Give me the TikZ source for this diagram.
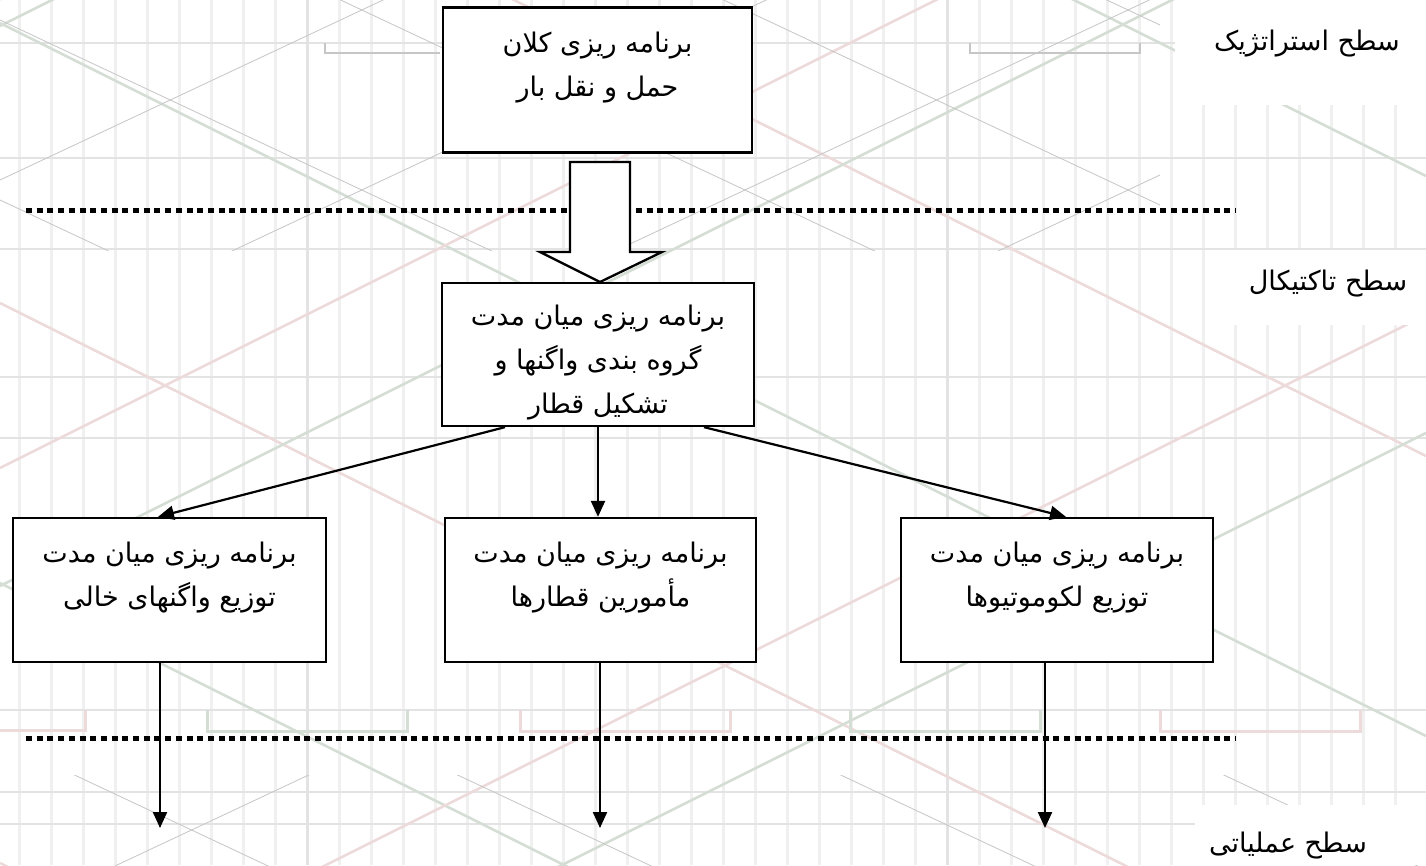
\documentclass[tikz,border=0pt]{standalone}
\usepackage{fontspec}
\newfontfamily\fa[Script=Arabic]{DejaVu Sans}
\TeXXeTstate=1
\usetikzlibrary{arrows.meta}
\definecolor{vline}{HTML}{F0F0F0}
\definecolor{hline}{HTML}{E3E3E3}
\definecolor{pinkl}{HTML}{EDDADA}
\definecolor{greenl}{HTML}{D5DED5}
\definecolor{grayl}{HTML}{C6C6C6}
\tikzset{
  box/.style={draw=black, line width=2.3pt, fill=white, rectangle, inner sep=0pt},
  txt/.style={font=\fa\fontsize{27}{44}\selectfont, align=center, inner sep=0pt, text=black},
  conn/.style={draw=black, line width=2.2pt, -{Triangle[length=16pt,width=14pt]}},
  levelsep/.style={draw=black, line width=5pt, dash pattern=on 6pt off 4.7pt},
  lbl/.style={font=\fa\fontsize{27}{30}\selectfont, inner sep=0pt, text=black}
}
\begin{document}
\begin{tikzpicture}[x=1pt,y=-1pt]
\useasboundingbox (0,0) rectangle (1426,865);
\fill[white] (0,0) rectangle (1426,865);
% ---------- background texture ----------
\begin{scope}
\clip (0,0) rectangle (1426,865);
\foreach \k in {0,...,44} {
  \draw[vline, line width=3pt] ({19+32*\k},0) -- ({19+32*\k},865);
}
\draw[hline, line width=3pt] (307,0) -- (307,865);
\draw[hline, line width=3pt] (947,0) -- (947,865);
\foreach \yy in {43,158,249,377,438,710,792,824} {
  \draw[hline, line width=2pt] (0,\yy) -- (1426,\yy);
}
% coloured diagonal lattice
\foreach \c in {-1250,-690,-130,430} {
  \draw[greenl, line width=2.5pt] (0,{153+\c}) -- (1426,{153+\c+713});
  \draw[pinkl, line width=2.5pt] (0,{433+\c}) -- (1426,{433+\c+713});
}
\foreach \c in {0,560,1120,1680} {
  \draw[pinkl, line width=2.5pt] (0,{468+\c-560}) -- (1426,{468+\c-560-713});
  \draw[greenl, line width=2.5pt] (0,{586+\c-560}) -- (1426,{586+\c-560-713});
}
% thin grey lattice in the top and bottom bands
\begin{scope}
\clip (0,0) rectangle (1160,250);
\foreach \c in {-700,-520,...,300} {
  \draw[grayl, line width=0.8pt] (0,{\c}) -- (1426,{\c+670});
}
\foreach \c in {0,180,...,900} {
  \draw[grayl, line width=0.8pt] (0,{\c}) -- (1426,{\c-670});
}
\end{scope}
\begin{scope}
\clip (0,775) rectangle (1426,865);
\foreach \c in {100,280,...,900} {
  \draw[grayl, line width=0.8pt] (0,{\c+100}) -- (1426,{\c+100-670});
}
\foreach \c in {-700,-520,...,900} {
  \draw[grayl, line width=0.8pt] (0,{\c}) -- (1426,{\c+670});
}
\end{scope}
% rail-tie brackets
\draw[grayl, line width=2pt] (325,43) -- (325,53) -- (440,53);
\draw[grayl, line width=2pt] (970,43) -- (970,53) -- (1140,53) -- (1140,43);
\draw[pinkl, line width=3pt] (0,730) -- (85,730) -- (85,710);
\draw[greenl, line width=3pt] (207,710) -- (207,731) -- (407,731) -- (407,710);
\draw[pinkl, line width=3pt] (520,710) -- (520,731) -- (730,731) -- (730,710);
\draw[greenl, line width=3pt] (850,710) -- (850,731) -- (1040,731) -- (1040,710);
\draw[pinkl, line width=3pt] (1160,710) -- (1160,731) -- (1360,731) -- (1360,710);
\end{scope}
% white areas behind level labels
\fill[white] (1175,0) rectangle (1426,105);
\fill[white] (1228,250) rectangle (1426,325);
\fill[white] (1195,805) rectangle (1426,865);

% ---------- level separators ----------
\coordinate (s1a) at (26,210);
\coordinate (s1b) at (1236,210);
\coordinate (s2a) at (26,738);
\coordinate (s2b) at (1236,738);
\draw[levelsep] (s1a) -- (s1b);
\draw[levelsep] (s2a) -- (s2b);

% ---------- boxes ----------
\node[box, minimum width=309pt, minimum height=145pt] (top) at (597.5,80) {};
\node[txt, anchor=base] (toptxt) at (597.5,96) {\beginR برنامه ریزی کلان\endR\\\beginR حمل و نقل بار\endR};

\node[box, minimum width=312pt, minimum height=143pt] (mid) at (598,354.5) {};
\node[txt, anchor=base] (midtxt) at (598,413) {\beginR برنامه ریزی میان مدت\endR\\\beginR گروه بندی واگنها و\endR\\\beginR تشکیل قطار\endR};

\node[box, minimum width=313pt, minimum height=144pt] (bl) at (169.5,590) {};
\node[txt, anchor=base] (bltxt) at (169.5,606) {\beginR برنامه ریزی میان مدت\endR\\\beginR توزیع واگنهای خالی\endR};

\node[box, minimum width=311pt, minimum height=144pt] (bm) at (600.5,590) {};
\node[txt, anchor=base] (bmtxt) at (600.5,606) {\beginR برنامه ریزی میان مدت\endR\\\beginR مأمورین قطارها\endR};

\node[box, minimum width=312pt, minimum height=144pt] (br) at (1057,590) {};
\node[txt, anchor=base] (brtxt) at (1057,606) {\beginR برنامه ریزی میان مدت\endR\\\beginR توزیع لکوموتیوها\endR};

% ---------- block arrow ----------
\draw[black, line width=2.3pt, fill=white, line join=miter]
  (570,162) -- (630,162) -- (630,252) -- (662,252) -- (600,282) -- (540,252) -- (570,252) -- cycle;

% ---------- connectors ----------
\draw[conn] (mid.south -| 505,0) -- (bl.north -| 158,0);
\draw[conn] (mid.south) -- (bm.north -| mid.south);
\draw[conn] (mid.south -| 704,0) -- (br.north -| 1066,0);
\coordinate (e1) at (160,828);
\coordinate (e2) at (600,828);
\coordinate (e3) at (1045,828);
\draw[conn] (bl.south -| e1) -- (e1);
\draw[conn] (bm.south -| e2) -- (e2);
\draw[conn] (br.south -| e3) -- (e3);

% ---------- level labels ----------
\node[lbl, anchor=base] (l1) at (1307,50) {\beginR سطح استراتژیک\endR};
\node[lbl, anchor=base] (l2) at (1328,290) {\beginR سطح تاکتیکال\endR};
\node[lbl, anchor=base] (l3) at (1288,852) {\beginR سطح عملیاتی\endR};
\end{tikzpicture}
\end{document}
